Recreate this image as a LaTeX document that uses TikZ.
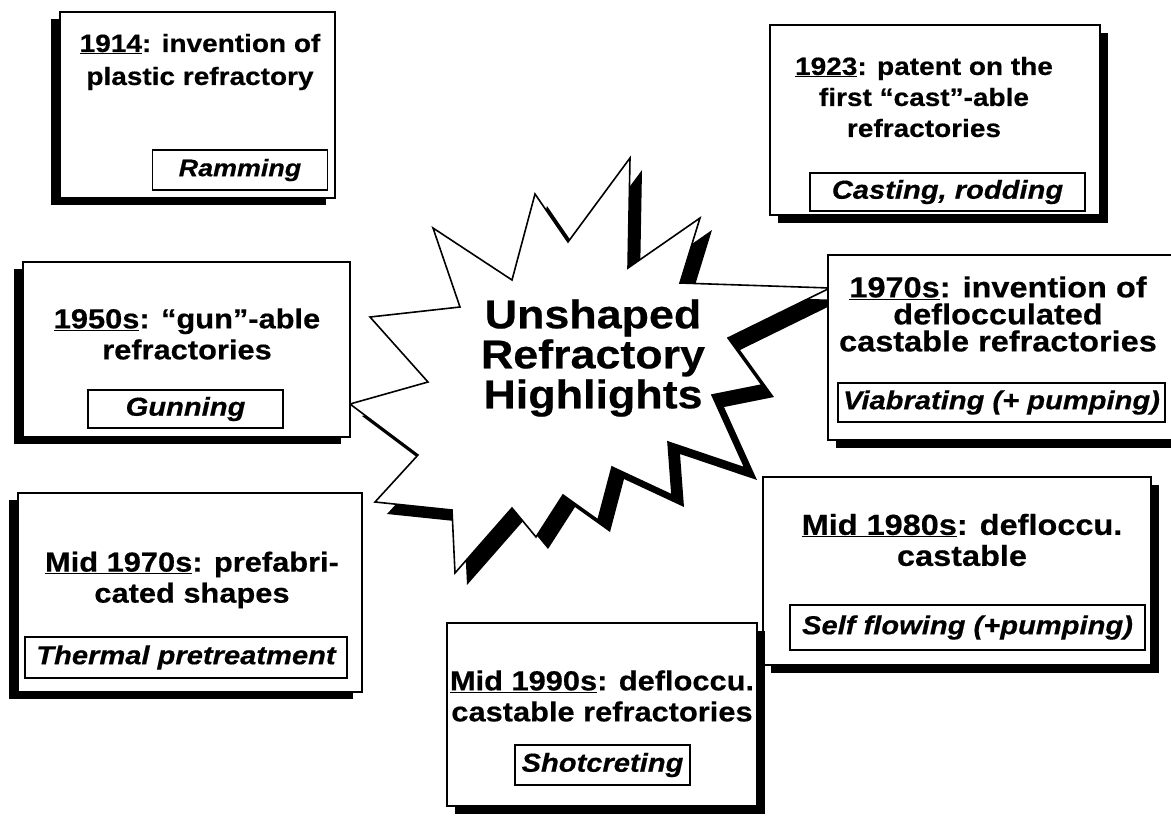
\documentclass[tikz,border=0pt]{standalone}
\usepackage{fontspec}
\setmainfont{Liberation Sans}[FakeStretch=1.12, BoldFeatures={FakeBold=0.5}, BoldItalicFeatures={FakeBold=0.5}]
\usetikzlibrary{shadows}
\newcommand{\yr}[1]{\underline{#1}}
\begin{document}
\begin{tikzpicture}[x=1pt,y=-1pt,
  box/.style={draw=black, line width=1.8pt, fill=white, inner sep=0pt},
  shl/.style={drop shadow={shadow xshift=-9pt, shadow yshift=-7pt, fill=black, opacity=1}},
  shr/.style={drop shadow={shadow xshift=8pt, shadow yshift=-8pt, fill=black, opacity=1}},
  ttl/.style={align=center, inner sep=0pt, font=\fontsize{27.5}{31}\selectfont\bfseries},
  subbox/.style={draw=black, line width=1.3pt, fill=white, inner sep=0pt, font=\fontsize{26}{28}\selectfont\bfseries\itshape},
  burst/.style={draw=black, line width=1.6pt, fill=white, line join=miter,
    preaction={fill=black, transform canvas={shift={(12pt,-12pt)}}}},
  ]
\useasboundingbox[fill=white] (0,0) rectangle (1171,817);

% central starburst
\path[burst] (433,228) -- (512,280) -- (535,194) -- (568,242) -- (630,158) -- (628,268)
  -- (700,218) -- (680,283) -- (830,288) -- (728,338) -- (762,385) -- (712,395)
  -- (745,468) -- (668,442) -- (672,495) -- (612,467) -- (598,520) -- (563,495)
  -- (536,537) -- (512,508) -- (455,573) -- (452,510) -- (375,502) -- (418,455)
  -- (350,404) -- (428,382) -- (370,317) -- (460,307) -- cycle;
\node[align=center, inner sep=0pt, font=\fontsize{40}{40}\selectfont\bfseries] (hub) at (593,358)
  {Unshaped\\Refractory\\Highlights};

% boxes
\node[box, shl, minimum width=275pt, minimum height=186pt] (a) at (197.5,105) {};
\node[ttl, font=\fontsize{25}{33}\selectfont\bfseries] (at) at (200,62) {\yr{1914}: invention of\\plastic refractory};
\node[subbox, font=\fontsize{24}{26}\selectfont\bfseries\itshape, minimum width=175pt, minimum height=40pt] (as) at (240,170) {Ramming};

\node[box, shr, minimum width=330pt, minimum height=190pt] (b) at (935,120) {};
\node[ttl, font=\fontsize{25}{31}\selectfont\bfseries] (bt) at (924,97) {\yr{1923}: patent on the\\first “cast”-able\\refractories};
\node[subbox, minimum width=275pt, minimum height=38pt] (bs) at (947.5,192) {Casting, rodding};

\node[box, shl, minimum width=327pt, minimum height=175pt] (c) at (186.5,349.5) {};
\node[ttl] (ct) at (187,334) {\yr{1950s}: “gun”-able\\refractories};
\node[subbox, minimum width=195pt, minimum height=38pt] (cs) at (185.5,409) {Gunning};

\node[box, shl, minimum width=344pt, minimum height=199pt] (d) at (190,592.5) {};
\node[ttl] (dt) at (192,580) {\yr{Mid 1970s}: prefabri-\\cated shapes};
\node[subbox, minimum width=322pt, minimum height=41pt] (ds) at (186,657.5) {Thermal pretreatment};

\node[box, shr, minimum width=346pt, minimum height=185pt] (e) at (1001,347.5) {};
\node[ttl, font=\fontsize{29}{27}\selectfont\bfseries] (et) at (998,314) {\yr{1970s}: invention of\\deflocculated\\castable refractories};
\node[subbox, minimum width=327pt, minimum height=39pt] (es) at (1001.5,402.5) {Viabrating (+ pumping)};

\node[box, shr, minimum width=388pt, minimum height=188pt] (f) at (957,571) {};
\node[ttl, font=\fontsize{29}{31}\selectfont\bfseries] (ft) at (962,540) {\yr{Mid 1980s}: defloccu.\\castable};
\node[subbox, minimum width=355pt, minimum height=45pt] (fs) at (967.5,627.5) {Self flowing (+pumping)};

\node[box, shr, minimum width=310pt, minimum height=183pt] (g) at (602,714.5) {};
\node[ttl] (gt) at (602,696) {\yr{Mid 1990s}: defloccu.\\castable refractories};
\node[subbox, minimum width=175pt, minimum height=40pt] (gs) at (602.5,765) {Shotcreting};
\end{tikzpicture}
\end{document}
